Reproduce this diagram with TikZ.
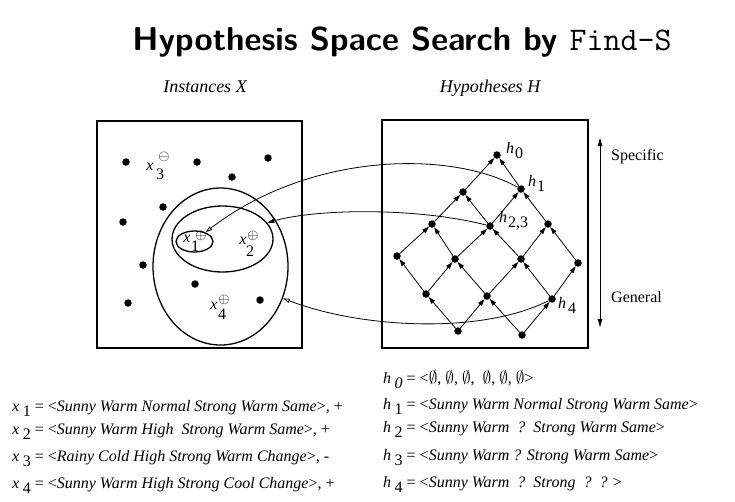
\documentclass[tikz,border=0pt]{standalone}
\usepackage{fontspec}
\setmainfont{Liberation Serif}
\usetikzlibrary{shapes.geometric,arrows.meta}
\newcommand{\sub}[1]{\kern3.5pt\raisebox{-5.5pt}{#1}}
\newcommand{\sgn}[1]{{\fontsize{14}{15}\selectfont$#1$}}
\begin{document}
\begin{tikzpicture}[x=1pt,y=-1pt,
  frame/.style={draw,line width=1.3pt},
  blob/.style={draw,ellipse,line width=1.3pt,inner sep=0pt},
  dot/.style={circle,fill,inner sep=0pt,minimum size=7.5pt},
  latt/.style={line width=0.8pt,-{Triangle[length=7pt,width=4.5pt]}},
  link/.style={line width=0.8pt},
  txt/.style={inner sep=0pt,font=\fontsize{16}{19}\selectfont},
  big/.style={inner sep=0pt,font=\fontsize{18}{21}\selectfont\itshape},
  lst/.style={inner sep=0pt,anchor=base west,font=\fontsize{16}{19}\selectfont}
]
\useasboundingbox (0,0) rectangle (735,501);
% title
\node[inner sep=0pt] (title) at (402,42) {\fontsize{33}{38}\selectfont\sffamily\bfseries Hypothesis Space Search by \ttfamily\mdseries Find-S};
\node[big] (lx) at (205,87) {Instances X};
\node[big] (lh) at (490,88) {Hypotheses H};
% boxes
\node[frame,minimum width=205pt,minimum height=227pt,inner sep=0pt] (boxX) at (199.5,234.5) {};
\node[frame,minimum width=206pt,minimum height=228pt,inner sep=0pt] (boxH) at (485,234) {};
% instance dots
\foreach \n/\x/\y in {p1/126/162,p2/197/162,p3/268/158,p4/232/177,p5/163/207,p6/123/222,p7/143/265,p8/195/284,p9/128/303,p10/260/300}
  \node[dot] (\n) at (\x,\y) {};
% ellipses
\node[blob,minimum width=135pt,minimum height=157pt] (outer) at (220.5,266.5) {};
\node[blob,minimum width=101pt,minimum height=66pt] (mid) at (222.5,239) {};
\node[blob,minimum width=37pt,minimum height=21pt] (small) at (194.5,241.5) {};
% instance labels
\node[txt] (x3) at (150,167) {\textit{x}};
\node[txt] (x3s) at (160,174) {3};
\node[txt] (x3m) at (164,157) {\sgn{\ominus}};
\node[txt] (x1) at (187,239) {\textit{x}};
\node[txt] (x1s) at (195,246) {1};
\node[txt] (x1p) at (201,236) {\sgn{\oplus}};
\node[txt] (x2) at (243,241) {\textit{x}};
\node[txt] (x2s) at (250,251) {2};
\node[txt] (x2p) at (253,236) {\sgn{\oplus}};
\node[txt] (x4) at (214,306) {\textit{x}};
\node[txt] (x4s) at (222,314) {4};
\node[txt] (x4p) at (224,300) {\sgn{\oplus}};
% lattice
\foreach \n/\x/\y in {h0/497/155,a1/463/192,h1/521/189,b1/432/224,h23/490/226,b3/548/224,c1/397/256,c2/455/259,c3/521/259,c4/578/263,d1/426/294,d2/487/296,h4/552/299,e1/458/331,e2/522/335}
  \node[dot] (\n) at (\x,\y) {};
\foreach \s/\t in {a1/h0,h1/h0,b1/a1,h23/a1,h23/h1,b3/h1,c1/b1,c2/b1,c2/h23,c3/h23,c3/b3,c4/b3,d1/c1,d1/c2,d2/c2,d2/c3,h4/c3,h4/c4,e1/d1,e1/d2,e2/d2,e2/h4}
  \draw[latt] (\s) -- (\t);
\node[txt,anchor=west] (lh0) at (506,151) {\textit{h}\kern1pt\raisebox{-5pt}{0}};
\node[txt,anchor=west] (lh1) at (528,183) {\textit{h}\kern1pt\raisebox{-5pt}{1}};
\node[txt,anchor=west] (lh23) at (499,221) {\textit{h}\kern1pt\raisebox{-5pt}{2,3}};
\node[txt,anchor=west] (lh4) at (558,305) {\textit{h}\kern2pt\raisebox{-5pt}{4}};
% connectors
\draw[link,-{Triangle[open,length=7pt,width=4pt]}] (h1) .. controls (450,150) and (310,152) .. (small.40);
\draw[link,-{Triangle[length=7pt,width=4pt]}] (h23) .. controls (420,208) and (320,208) .. (mid.20);
\draw[link,-{Triangle[open,length=7pt,width=4pt]}] (h4) .. controls (480,335) and (360,328) .. (outer.-27);
% specific/general
\coordinate (sTop) at (600,137);
\coordinate (sBot) at (600,328);
\draw[line width=1pt,{Latex[length=9pt,width=5pt]}-{Latex[length=9pt,width=5pt]}] (sTop) -- (sBot);
\node[txt,anchor=west] (spec) at (611,157) {Specific};
\node[txt,anchor=west] (gen) at (611,297) {General};
% lists
\node[lst] (lx1) at (12,411) {\textit{x}\sub{1} = <\textit{Sunny Warm Normal Strong Warm Same}>, +};
\node[lst] (lx2) at (12,434) {\textit{x}\sub{2} = <\textit{Sunny Warm High\ \ Strong Warm Same}>, +};
\node[lst] (lx3) at (12,461) {\textit{x}\sub{3} = <\textit{Rainy Cold High Strong Warm Change}>, -};
\node[lst] (lx4) at (12,488) {\textit{x}\sub{4} = <\textit{Sunny Warm High Strong Cool Change}>, +};
\node[lst] (lh0t) at (383,383) {\textit{h}\sub{\textit{0}} = <$\emptyset$, $\emptyset$, $\emptyset$,\ \ $\emptyset$, $\emptyset$, $\emptyset$>};
\node[lst] (lh1t) at (383,409) {\textit{h}\sub{1} = <\textit{Sunny Warm Normal Strong Warm Same}>};
\node[lst] (lh2t) at (383,432) {\textit{h}\sub{2} = <\textit{Sunny Warm\ \ ?\ \ Strong Warm Same}>};
\node[lst] (lh3t) at (383,460) {\textit{h}\sub{3} = <\textit{Sunny Warm ? Strong Warm Same}>};
\node[lst] (lh4t) at (383,487) {\textit{h}\sub{4} = <\textit{Sunny Warm\ \ ?\ \ Strong\ \ ?\ \ ? }>};
\end{tikzpicture}
\end{document}
